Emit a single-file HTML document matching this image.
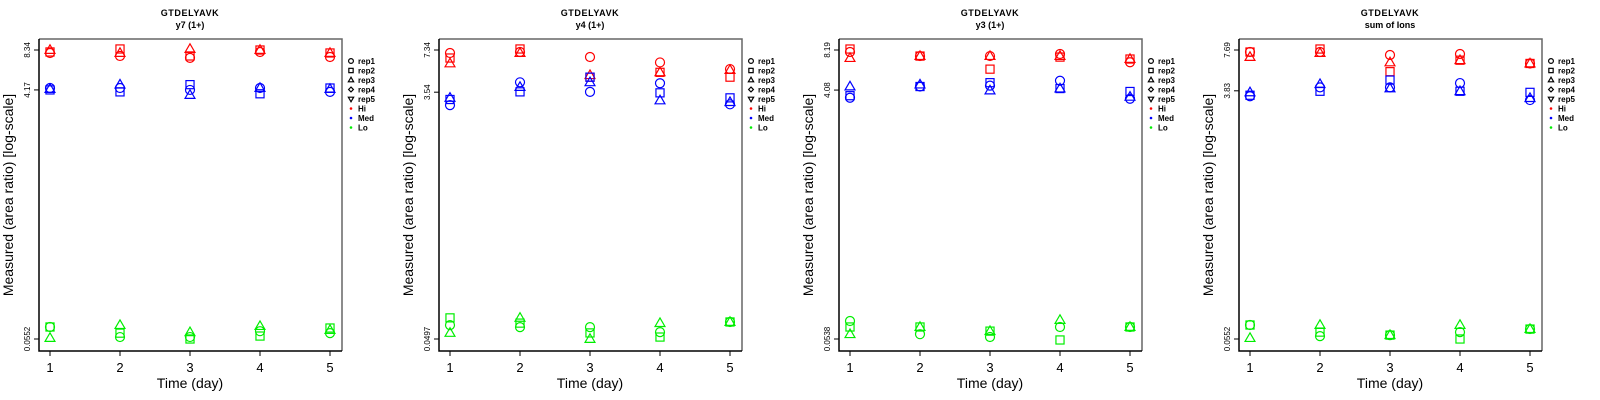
<!DOCTYPE html>
<html><head><meta charset="utf-8">
<style>
html,body{margin:0;padding:0;background:#fff;}
svg{display:block;font-family:"Liberation Sans",sans-serif;}
</style></head>
<body>
<svg id="chart" width="1600" height="400" viewBox="0 0 1600 400" xmlns="http://www.w3.org/2000/svg"></svg>
<script>
const days = [1, 2, 3, 4, 5];
const panelTitles = ["y7 (1+)", "y4 (1+)", "y3 (1+)", "sum of Ions"];
const peptide = "GTDELYAVK";
const yMaxTicks = [8.34, 7.34, 8.19, 7.69];
const yMidTicks = [4.17, 3.54, 4.08, 3.83];
const yMinTicks = [0.0552, 0.0497, 0.0538, 0.0552];
const groups = ["Hi", "Med", "Lo"];
const groupColors = ["#ff0000", "#0000ff", "#00ee00"];
const reps = ["rep1", "rep2", "rep3"];
// values[panel][group][rep][day]
const p1Hi = [[7.92,7.52,7.27,8.06,7.39],[8.06,8.49,7.52,8.34,7.92],[8.34,7.92,8.49,8.34,7.92]];
const p1Med = [[4.31,4.31,4.17,4.31,4.03],[4.17,4.03,4.57,3.90,4.31],[4.24,4.57,3.82,4.31,4.24]];
const p1Lo = [[0.0680,0.0571,0.0571,0.0632,0.0611],[0.0680,0.0611,0.0552,0.0581,0.0668],[0.0562,0.0703,0.0621,0.0691,0.0645]];
const p2Hi = [[6.97,7.09,6.50,5.92,5.28],[6.39,7.47,4.59,4.99,4.59],[5.82,6.97,4.75,4.99,5.19]];
const p2Med = [[2.83,4.20,3.56,4.13,2.87],[3.12,3.56,4.59,3.50,3.21],[3.21,3.87,4.20,3.07,2.98]];
const p2Lo = [[0.0632,0.0610,0.0610,0.0560,0.0667],[0.0716,0.0654,0.0552,0.0514,0.0667],[0.0552,0.0716,0.0497,0.0654,0.0667]];
const p3Hi = [[7.91,7.37,7.37,7.64,6.62],[8.33,7.37,5.87,7.24,7.00],[7.12,7.37,7.37,7.37,7.00]];
const p3Med = [[3.57,4.34,4.41,4.80,3.51],[3.70,4.34,4.64,4.19,3.98],[4.34,4.49,4.05,4.19,3.63]];
const p3Lo = [[0.0736,0.0585,0.0557,0.0663,0.0663],[0.0663,0.0663,0.0617,0.0529,0.0663],[0.0585,0.0663,0.0617,0.0749,0.0663]];
const p4Hi = [[7.43,7.43,7.06,7.18,6.11],[7.43,7.82,5.31,6.46,6.11],[6.82,7.30,6.22,6.46,6.11]];
const p4Med = [[3.49,4.06,4.06,4.37,3.27],[3.55,3.80,4.60,3.80,3.73],[3.73,4.29,3.99,3.80,3.38]];
const p4Lo = [[0.0701,0.0580,0.0590,0.0621,0.0654],[0.0701,0.0621,0.0590,0.0552,0.0654],[0.0561,0.0701,0.0590,0.0701,0.0654]];
const panelData = [[p1Hi,p1Med,p1Lo],[p2Hi,p2Med,p2Lo],[p3Hi,p3Med,p3Lo],[p4Hi,p4Med,p4Lo]];
const legendLabels = ["rep1","rep2","rep3","rep4","rep5","Hi","Med","Lo"];

const NS = "http://www.w3.org/2000/svg";
const svg = document.getElementById("chart");
function mk(tag, attrs, parent){
  const e = document.createElementNS(NS, tag);
  for (const k in attrs) e.setAttribute(k, attrs[k]);
  (parent||svg).appendChild(e);
  return e;
}
function marker(shape, cx, cy, color, parent, r){
  r = r || 4.5;
  let e;
  if (shape === 0) e = mk("circle", {cx:cx, cy:cy, r:r, fill:"none", stroke:color, "stroke-width":1.2}, parent);
  else if (shape === 1) e = mk("rect", {x:cx-r*0.9, y:cy-r*0.9, width:r*1.8, height:r*1.8, fill:"none", stroke:color, "stroke-width":1.2}, parent);
  else if (shape === 2) e = mk("polygon", {points:`${cx},${cy-r*1.15} ${cx-r*1.1},${cy+r*0.75} ${cx+r*1.1},${cy+r*0.75}`, fill:"none", stroke:color, "stroke-width":1.2}, parent);
  else if (shape === 3) e = mk("polygon", {points:`${cx},${cy-r} ${cx+r},${cy} ${cx},${cy+r} ${cx-r},${cy}`, fill:"none", stroke:color, "stroke-width":1.2}, parent);
  else e = mk("polygon", {points:`${cx},${cy+r*1.15} ${cx-r*1.1},${cy-r*0.75} ${cx+r*1.1},${cy-r*0.75}`, fill:"none", stroke:color, "stroke-width":1.2}, parent);
  return e;
}

for (let p = 0; p < 4; p++) {
  const ox = p * 400;
  const g = mk("g", {});
  
  
  const left = ox + 39, right = ox + 342, top = 39, bottom = 351;
  const yTop = 50, yBot = 339;
  const lmax = Math.log(yMaxTicks[p]), lmin = Math.log(yMinTicks[p]);
  const yScale = v => yTop + (lmax - Math.log(v)) / (lmax - lmin) * (yBot - yTop);
  const xScale = d => ox + 50 + (d - 1) * 70;

  const t1 = mk("text", {x: ox+190, y: 16, "text-anchor":"middle", "font-size":9, "font-weight":"bold", "letter-spacing":"0.6"}, g);
  t1.textContent = peptide;
  
  
  const t2 = mk("text", {x: ox+190, y: 28, "text-anchor":"middle", "font-size":9, "font-weight":"bold"}, g);
  t2.textContent = panelTitles[p];
  
  

  mk("path", {d:`M${left},${top} H${right} V${bottom}`, fill:"none", stroke:"#666", "stroke-width":1.5}, g);
  const ax = mk("path", {d:`M${left},${top} V${bottom} H${right}`, fill:"none", stroke:"#000", "stroke-width":1.5}, g);
  
  

  [yMaxTicks[p], yMidTicks[p], yMinTicks[p]].forEach(v => {
    const y = yScale(v);
    mk("line", {x1:left-5, x2:left, y1:y, y2:y, stroke:"#000", "stroke-width":1}, g);
    const tl = mk("text", {x:0, y:0, transform:`translate(${left-9},${y}) rotate(-90)`, "text-anchor":"middle", "font-size":8}, g);
    tl.textContent = String(v);
    
    
  });
  days.forEach(d => {
    const x = xScale(d);
    mk("line", {x1:x, x2:x, y1:bottom, y2:bottom+5, stroke:"#000", "stroke-width":1}, g);
    const tl = mk("text", {x:x, y:372, "text-anchor":"middle", "font-size":13}, g);
    tl.textContent = String(d);
    
    
  });
  const xt = mk("text", {x: ox+190, y: 388, "text-anchor":"middle", "font-size":14}, g);
  xt.textContent = "Time (day)";
  
  
  const yt = mk("text", {x:0, y:0, transform:`translate(${ox+13},${195}) rotate(-90)`, "text-anchor":"middle", "font-size":14}, g);
  yt.textContent = "Measured (area ratio) [log-scale]";
  
  

  for (let gi = 0; gi < 3; gi++) {
    for (let r = 0; r < reps.length; r++) {
      days.forEach((d, di) => {
        const v = panelData[p][gi][r][di];
        const m = marker(r, xScale(d), yScale(v), groupColors[gi], g);
        
        
      });
    }
  }

  const lg = mk("g", {}, g);
  
  
  legendLabels.forEach((lab, i) => {
    const y = 61 + i * 9.5;
    const lx = ox + 351;
    if (i < 5) marker(i, lx, y, "#000", lg, 2.4);
    else mk("circle", {cx:lx, cy:y, r:1.3, fill:groupColors[i-5]}, lg);
    const tx = mk("text", {x: lx+7, y: y+3, "font-size":8, "font-weight":"bold"}, lg);
    tx.textContent = lab;
    
    
  });
}
</script>
</body></html>
